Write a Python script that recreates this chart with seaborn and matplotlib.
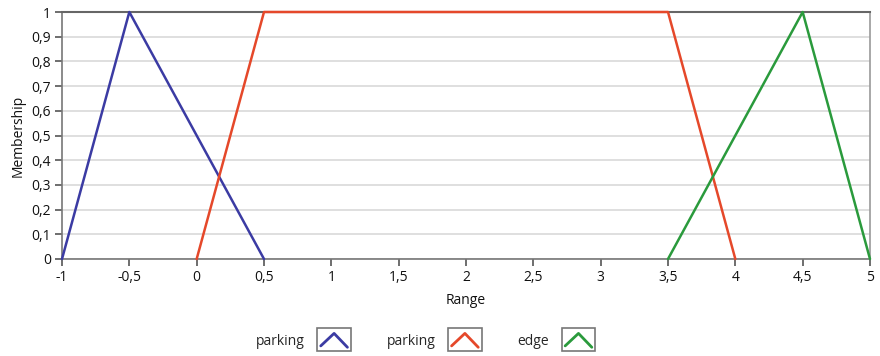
import matplotlib
matplotlib.use("Agg")
import matplotlib.pyplot as plt
import matplotlib.ticker as mticker
from matplotlib.legend_handler import HandlerBase
from matplotlib.patches import Rectangle
from matplotlib.lines import Line2D
import pandas as pd
import seaborn as sns

# Membership functions (breakpoints of each fuzzy set)
parking_neg_x = [-1.0, -0.5, 0.5]
parking_neg_y = [0.0, 1.0, 0.0]
parking_x = [0.0, 0.5, 3.5, 4.0]
parking_y = [0.0, 1.0, 1.0, 0.0]
edge_x = [3.5, 4.5, 5.0]
edge_y = [0.0, 1.0, 0.0]

set_labels = ["parking", "parking", "edge"]
set_colors = ["#3b3ba3", "#e5482a", "#2a9a3c"]

x_ticks = [-1, -0.5, 0, 0.5, 1, 1.5, 2, 2.5, 3, 3.5, 4, 4.5, 5]
y_ticks = [0, 0.1, 0.2, 0.3, 0.4, 0.5, 0.6, 0.7, 0.8, 0.9, 1]

sns.set_theme(style="white")
plt.rcParams["font.family"] = ["Open Sans", "DejaVu Sans"]

fig = plt.figure(figsize=(8.8, 3.56), dpi=100)
ax = fig.add_axes([62 / 880, 1 - 259 / 356, (870 - 62) / 880, (259 - 12) / 356])

series = [(parking_neg_x, parking_neg_y), (parking_x, parking_y), (edge_x, edge_y)]
for (xs, ys), lab, col in zip(series, set_labels, set_colors):
    df = pd.DataFrame({"Range": xs, "Membership": ys})
    sns.lineplot(data=df, x="Range", y="Membership", sort=False, color=col,
                 linewidth=1.8, ax=ax, label=lab, clip_on=False, zorder=3)

ax.set_xlim(-1, 5)
ax.set_ylim(0, 1)
ax.set_xticks(x_ticks)
ax.set_yticks(y_ticks)
comma = mticker.FuncFormatter(lambda v, p: ("%g" % v).replace(".", ","))
ax.xaxis.set_major_formatter(comma)
ax.yaxis.set_major_formatter(comma)
ax.grid(axis="y", color="#d9d9d9", linewidth=1.2)
ax.grid(axis="x", visible=False)
ax.tick_params(axis="both", which="major", direction="out", length=5, width=1.2,
               color="#555555", labelsize=10, labelcolor="#111111",
               bottom=True, left=True, pad=3)

ax.spines["top"].set_color("#666666")
ax.spines["top"].set_linewidth(1.5)
ax.spines["right"].set_color("#9a9a9a")
ax.spines["right"].set_linewidth(1.2)
ax.spines["left"].set_color("#777777")
ax.spines["left"].set_linewidth(1.2)
ax.spines["bottom"].set_color("#777777")
ax.spines["bottom"].set_linewidth(1.2)

ax.set_xlabel("Range", fontsize=10, color="#111111", labelpad=6)
ax.set_ylabel("Membership", fontsize=10, color="#111111", labelpad=4)


class ChevronKey(HandlerBase):
    """Legend key: a framed box holding a small peaked line in the series colour."""

    def create_artists(self, legend, orig_handle, xdescent, ydescent,
                       width, height, fontsize, trans):
        col = orig_handle.get_color()
        box = Rectangle((-xdescent, -ydescent - 5), width, height + 10,
                        facecolor="white", edgecolor="#777777", linewidth=1.2,
                        transform=trans)
        x0 = -xdescent
        line = Line2D([x0 + 0.1 * width, x0 + 0.5 * width, x0 + 0.9 * width],
                      [-ydescent - 1, -ydescent + height + 1, -ydescent - 2],
                      color=col, linewidth=2.0, transform=trans)
        return [box, line]


handles = [Line2D([], [], color=c) for c in set_colors]
ax.legend(handles, set_labels, handler_map={Line2D: ChevronKey()},
          loc="center", bbox_to_anchor=(0.45, -0.332), ncol=3, frameon=False,
          markerfirst=False, fontsize=10, handlelength=2.4, handletextpad=0.9,
          columnspacing=2.6)

fig.savefig("out.png", dpi=100, facecolor="white")
